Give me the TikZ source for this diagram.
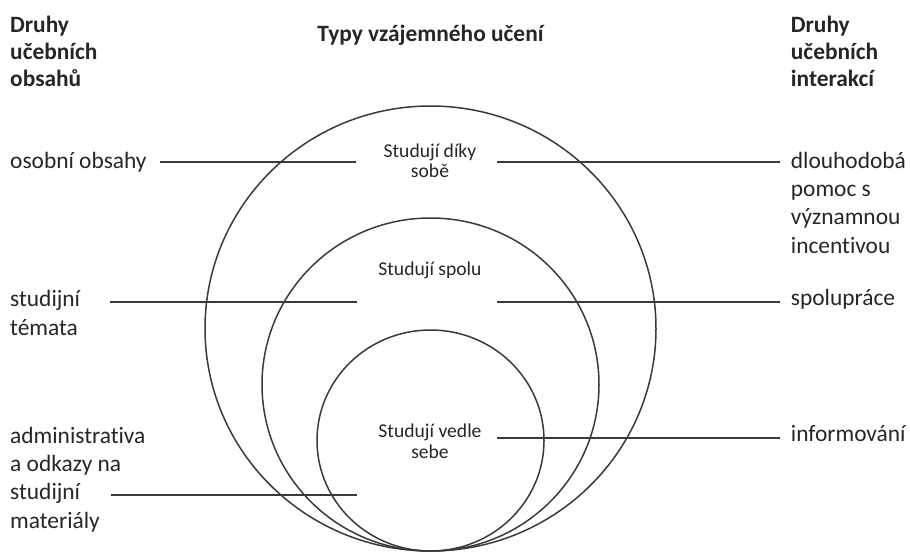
\documentclass[tikz,border=0pt]{standalone}
\usepackage{fontspec}
\setmainfont{Carlito}[Ligatures=NoCommon]
\definecolor{txt}{HTML}{262626}
\definecolor{linec}{HTML}{3A3A3A}
\begin{document}
\begin{tikzpicture}[x=1pt,y=-1pt,
  big/.style={font=\fontsize{23.4}{28.3}\selectfont, text=txt, inner sep=0pt, align=left, anchor=base west},
  head/.style={font=\bfseries\fontsize{23.4}{26.8}\selectfont, text=txt, inner sep=0pt, align=left, anchor=base west},
  small/.style={font=\fontsize{19.6}{20.8}\selectfont, text=txt, inner sep=0pt, align=center, anchor=base},
  ring/.style={draw=linec, line width=1.5pt},
  conn/.style={draw=linec, line width=1.9pt}]
\useasboundingbox (0,0) rectangle (910,552);
% circles
\draw[ring] (430.5,328.5) ellipse [x radius=225.5, y radius=222.5];
\draw[ring] (430.5,384.5) ellipse [x radius=168.5, y radius=166.5];
\draw[ring] (430.5,440.5) ellipse [x radius=113.5, y radius=110.5];
% headings (base anchor = baseline of the last line)
\node[head] (hl) at (10,86.2) {Druhy\\učebních\\obsahů};
\node[head, anchor=base] (ht) at (430.5,41.7) {Typy vzájemného učení};
\node[head] (hr) at (790.7,86.2) {Druhy\\učebních\\interakcí};
% left labels
\node[big] (l1) at (10,168.3) {osobní obsahy};
\node[big] (l2) at (10,335) {studijní\\témata};
\node[big] (l3) at (10,528) {administrativa\\a odkazy na\\studijní\\materiály};
% right labels
\node[big] (r1) at (790.7,253.2) {dlouhodobá\\pomoc s\\významnou\\incentivou};
\node[big] (r2) at (790.7,305) {spolupráce};
\node[big] (r3) at (790.7,441.7) {informování};
% centre labels
\node[small] (c1) at (430,177.8) {Studují díky\\sobě};
\node[small] (c2) at (430,275.7) {Studují spolu};
\node[small] (c3) at (430,458) {Studují vedle\\sebe};
% connector end points
\coordinate (a1) at (160,162.3); \coordinate (b1) at (356,162.3);
\coordinate (e1) at (497,162.3); \coordinate (f1) at (780,162.3);
\coordinate (a2) at (110,301.7); \coordinate (b2) at (357,301.7);
\coordinate (e2) at (497,301.7); \coordinate (f2) at (780,301.7);
\coordinate (a3) at (111,495); \coordinate (b3) at (357,495);
\coordinate (e3) at (497,437.7); \coordinate (f3) at (780,437.7);
\draw[conn] (a1) -- (b1);
\draw[conn] (e1) -- (f1);
\draw[conn] (a2) -- (b2);
\draw[conn] (e2) -- (f2);
\draw[conn] (a3) -- (b3);
\draw[conn] (e3) -- (f3);
\end{tikzpicture}
\end{document}
